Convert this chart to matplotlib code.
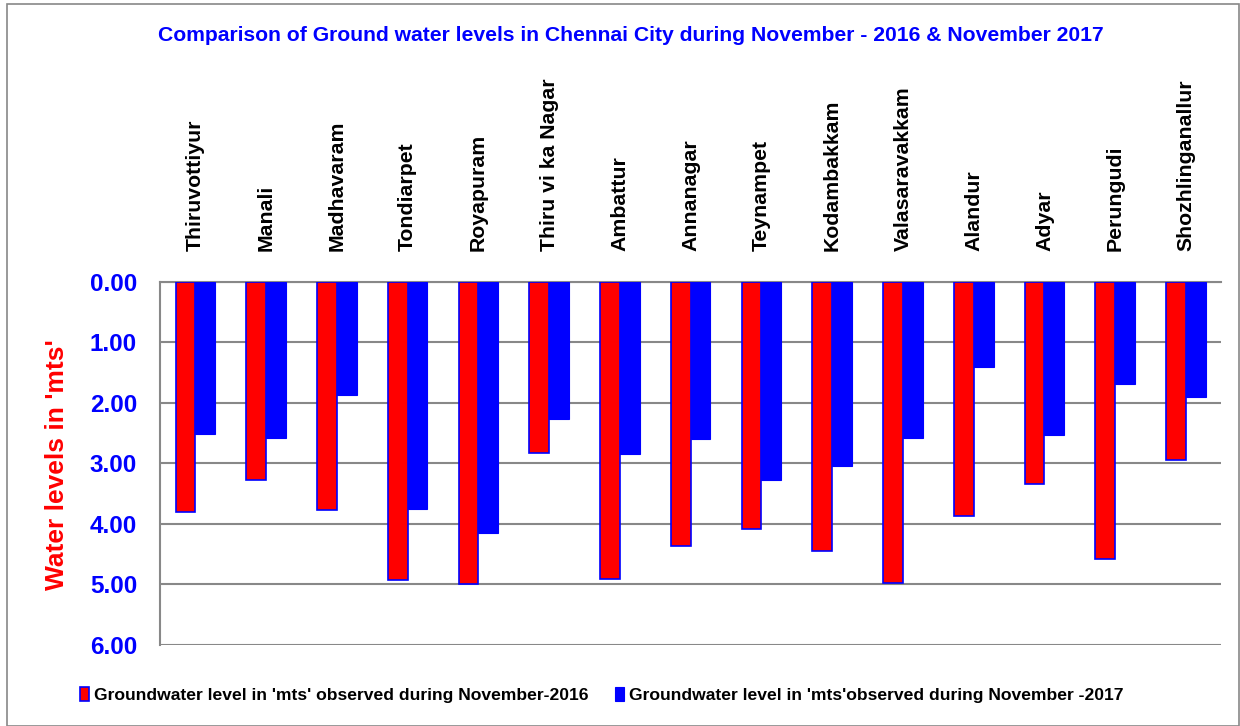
import numpy as np
import matplotlib
matplotlib.use('Agg')
from matplotlib import pyplot as plt
from matplotlib.patches import Rectangle

plt.rcParams['font.family'] = ['Liberation Sans', 'DejaVu Sans']

zones = ['Thiruvottiyur', 'Manali', 'Madhavaram', 'Tondiarpet', 'Royapuram',
         'Thiru vi ka Nagar', 'Ambattur', 'Annanagar', 'Teynampet', 'Kodambakkam',
         'Valasaravakkam', 'Alandur', 'Adyar', 'Perungudi', 'Shozhlinganallur']
nov_2016 = [3.80, 3.28, 3.77, 4.93, 4.99, 2.82, 4.91, 4.36, 4.08, 4.44,
            4.98, 3.86, 3.34, 4.58, 2.94]
nov_2017 = [2.52, 2.58, 1.86, 3.75, 4.15, 2.26, 2.85, 2.60, 3.27, 3.04,
            2.58, 1.41, 2.53, 1.69, 1.90]
yticks = [0, 1, 2, 3, 4, 5, 6]

fig = plt.figure(figsize=(12.4, 7.26), dpi=100)
fig.patches.append(Rectangle((0.006, 0.0), 0.993, 0.994, transform=fig.transFigure,
                             fill=False, edgecolor='#888888', linewidth=1.2))
ax = fig.add_axes([0.129, 0.1116, 0.856, 0.5], zorder=2)

x = np.arange(len(zones))
w = 0.28
ax.bar(x - w/2, nov_2016, w, color='#ff0000', edgecolor='#0000ff', linewidth=1.2,
       label="Groundwater level in 'mts' observed during November-2016", zorder=3)
ax.bar(x + w/2, nov_2017, w, color='#0000ff', edgecolor='#0000ff', linewidth=0.8,
       label="Groundwater level in 'mts'observed during November -2017", zorder=3)

ax.set_xlim(-0.5, len(zones) - 0.5)
ax.set_ylim(6, 0)
ax.set_yticks(yticks)
ax.set_yticklabels(['%.2f' % v for v in yticks], color='#0000ff',
                   fontsize=17.5, fontweight='bold')
ax.set_xticks([])
ax.tick_params(axis='y', length=0, pad=16.5)
ax.yaxis.grid(True, color='#888888', linewidth=1.5, zorder=0)
for s in ['right', 'bottom']:
    ax.spines[s].set_visible(False)
ax.spines['left'].set_color('#888888')
ax.spines['left'].set_linewidth(1.5)
ax.spines['top'].set_color('#888888')
ax.spines['top'].set_linewidth(1.5)

ax.set_ylabel("Water levels in 'mts'", color='#ff0000', fontsize=19,
              fontweight='bold')
ax.yaxis.set_label_coords(-0.086, 0.497)

for i, name in enumerate(zones):
    ax.text(i, 1.085, name, transform=ax.get_xaxis_transform(), rotation=90,
            ha='center', va='bottom', fontsize=15.3, fontweight='bold')

fig.text(0.509, 0.951, 'Comparison of Ground water levels in Chennai City during November - 2016 & November 2017',
         ha='center', va='center', color='#0000ff', fontsize=15.2, fontweight='bold')

fig.legend(loc='center', bbox_to_anchor=(0.485, 0.043), ncol=2, frameon=False,
           prop={'weight': 'bold', 'size': 12.6},
           handlelength=0.55, handleheight=0.9, handletextpad=0.25, columnspacing=1.5)

plt.savefig('out.png', dpi=100)
